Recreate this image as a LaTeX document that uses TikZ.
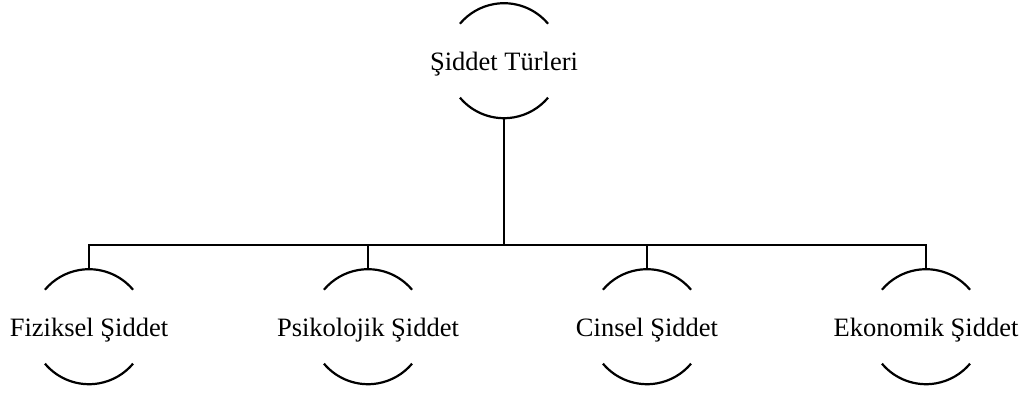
\documentclass[tikz,border=0pt]{standalone}
\usepackage{fontspec}
\setmainfont{Liberation Serif}
\begin{document}
\begin{tikzpicture}[x=1pt,y=1pt,
  cnode/.style={rectangle,draw=none,inner sep=0pt,outer sep=0pt,anchor=base,
    font=\fontsize{26.5}{30}\selectfont},
  arcline/.style={line width=2.2pt},
  link/.style={line width=2.2pt}]
\useasboundingbox (0,0) rectangle (1031,392);
\node[cnode] (t) at (504,321.3) {Şiddet Türleri};
\node[cnode] (a) at (89,55.3) {Fiziksel Şiddet};
\node[cnode] (b) at (368,55.3) {Psikolojik Şiddet};
\node[cnode] (c) at (647,55.3) {Cinsel Şiddet};
\node[cnode] (d) at (926,55.3) {Ekonomik Şiddet};
\foreach \n in {t,a,b,c,d}{
  \coordinate (\n-c) at ([yshift=10pt]\n.base);
  \draw[arcline] ([shift={(40:57.5pt)}]\n-c) arc[start angle=40,end angle=140,radius=57.5pt];
  \draw[arcline] ([shift={(220:57.5pt)}]\n-c) arc[start angle=220,end angle=320,radius=57.5pt];
  \coordinate (\n-top) at ([yshift=57.5pt]\n-c);
  \coordinate (\n-bot) at ([yshift=-57.5pt]\n-c);
}
\coordinate (bus) at (504,147);
\draw[link] (t-bot) -- (bus);
\foreach \n in {a,b,c,d}{
  \draw[link] (\n-top) |- (bus);
}
\end{tikzpicture}
\end{document}
